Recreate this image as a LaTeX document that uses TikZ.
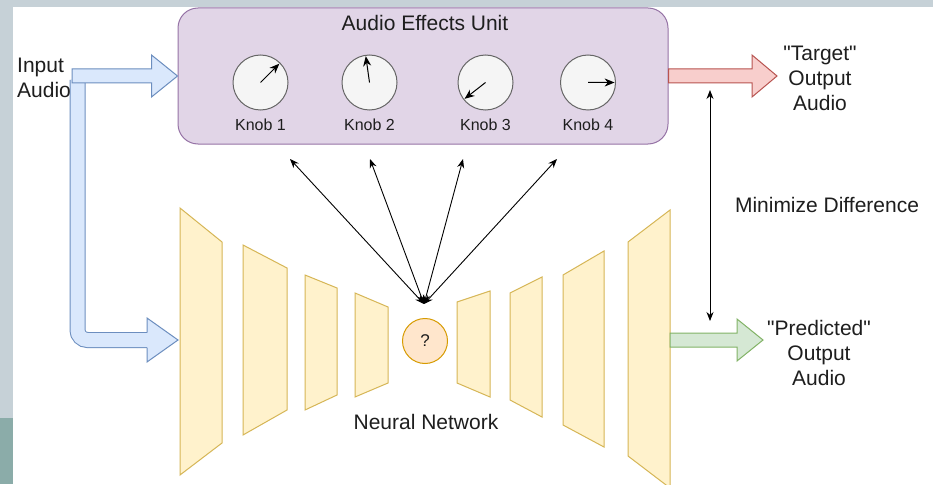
\documentclass[tikz,border=0pt]{standalone}
\usepackage{fontspec}
\setmainfont{Liberation Sans}[Ligatures=TeXOff]
\usetikzlibrary{arrows.meta,calc}
\definecolor{bgGray}{HTML}{C6D1D7}
\definecolor{bgTeal}{HTML}{8BACA9}
\definecolor{fxF}{HTML}{E1D5E7}
\definecolor{fxS}{HTML}{9673A6}
\definecolor{knF}{HTML}{F5F5F5}
\definecolor{knS}{HTML}{666666}
\definecolor{blF}{HTML}{DAE8FC}
\definecolor{blS}{HTML}{6C8EBF}
\definecolor{rdF}{HTML}{F8CECC}
\definecolor{rdS}{HTML}{B85450}
\definecolor{grF}{HTML}{D5E8D4}
\definecolor{grS}{HTML}{82B366}
\definecolor{ylF}{HTML}{FFF2CC}
\definecolor{ylS}{HTML}{D6B656}
\definecolor{orF}{HTML}{FFE6CC}
\definecolor{orS}{HTML}{D79B00}
\definecolor{txt}{HTML}{1E1E1E}
% #1 start, #2 tip, #3 head length, #4 fill, #5 stroke
\newcommand\hflex[5]{%
  \filldraw[fill=#4,draw=#5,line width=1pt,line join=miter]
    ($(#1)+(0,-7)$) -- ($(#2)+(-#3,-7)$) -- ($(#2)+(-#3,-21)$) -- (#2)
    -- ($(#2)+(-#3,21)$) -- ($(#2)+(-#3,7)$) -- ($(#1)+(0,7)$) -- cycle;}
\begin{document}
\begin{tikzpicture}[x=1pt,y=-1pt,
  bigtxt/.style={text=txt,font=\fontsize{21}{25}\selectfont,inner sep=0pt,align=center},
  smalltxt/.style={text=txt,font=\fontsize{16}{19}\selectfont,inner sep=0pt},
  fxbox/.style={draw=fxS,fill=fxF,line width=1pt,rounded corners=20pt,minimum width=490pt,minimum height=136pt,inner sep=0pt},
  knob/.style={circle,draw=knS,fill=knF,line width=1pt,minimum size=55pt,inner sep=0pt},
  pointer/.style={line width=1pt,-{Stealth[length=10pt,width=8pt]}},
  link/.style={line width=0.9pt,{Stealth[length=9pt,width=7pt]}-{Stealth[length=9pt,width=7pt]}},
  layer/.style={fill=ylF,draw=ylS,line width=1pt,line join=miter},
  qnode/.style={circle,draw=orS,fill=orF,line width=1pt,minimum size=45pt,inner sep=0pt,text=txt,font=\fontsize{17}{20}\selectfont}
]
\useasboundingbox (0,0) rectangle (933,484);
% background frame
\fill[white] (0,0) rectangle (933,484);
\fill[bgGray] (0,0) rectangle (933,7);
\fill[bgGray] (0,0) rectangle (13,418);
\fill[bgTeal] (0,418) rectangle (13,484);

% named coordinates
\coordinate (inStart) at (72,76);
\coordinate (bendStart) at (77.5,80);
\coordinate (nnIn) at (178,340);
\coordinate (tgtTip) at (777,76);
\coordinate (nnOut) at (670,340);
\coordinate (predTip) at (763,340);
\coordinate (hub) at (424,304);
\coordinate (up1) at (290,159);
\coordinate (up2) at (370,159);
\coordinate (up3) at (463,159);
\coordinate (up4) at (557,159);
\coordinate (diffTop) at (710,90);
\coordinate (diffBot) at (710,321);

% effects unit box
\node[fxbox] (fx) at (423,76) {};
\node[bigtxt] (title) at (425,23) {Audio Effects Unit};

% blue bent arrow (input -> network)
\draw[line width=1pt,draw=blS,double=blF,double distance=14pt,rounded corners=10pt]
  (bendStart) |- ($(nnIn)+(-30,0)$);
\filldraw[fill=blF,draw=blS,line width=1pt,line join=miter]
  ($(nnIn)+(-31,-7.5)$) -- ($(nnIn)+(-31,-22)$) -- (nnIn) -- ($(nnIn)+(-31,22)$) -- ($(nnIn)+(-31,7.5)$);
% blue straight arrow (input -> effects unit)
\hflex{inStart}{fx.west}{26}{blF}{blS}
% red arrow (effects unit -> target)
\hflex{fx.east}{tgtTip}{25}{rdF}{rdS}

% knobs
\foreach \i/\x/\ang in {1/260.5/45, 2/369.5/98, 3/485.5/218, 4/588/0} {
  \node[knob] (k\i) at (\x,82.5) {};
  \node[smalltxt] (kl\i) at (\x,125) {Knob \i};
  \draw[pointer] (k\i.center) -- ($(k\i.center)!0.95!(k\i.\ang)$);
}

% network layers
\filldraw[layer] (180,208) -- (222,242) -- (222,443) -- (180,475) -- cycle;
\filldraw[layer] (243,245) -- (287,268) -- (287,410) -- (243,435) -- cycle;
\filldraw[layer] (305,275) -- (337,288) -- (337,395) -- (305,410) -- cycle;
\filldraw[layer] (355,293) -- (388,307) -- (388,383) -- (355,397) -- cycle;
\filldraw[layer] (457,302) -- (490,291) -- (490,397) -- (457,383) -- cycle;
\filldraw[layer] (510,293) -- (542,277) -- (542,417) -- (510,400) -- cycle;
\filldraw[layer] (563,275) -- (604,251) -- (604,447) -- (563,425) -- cycle;
\filldraw[layer] (628,242) -- (670,210) -- (670,488) -- (628,456) -- cycle;
\node[qnode] (q) at (425,341) {?};
\node[bigtxt] (nn) at (426,422) {Neural Network};

% green arrow (network -> predicted)
\hflex{nnOut}{predTip}{26}{grF}{grS}

% parameter links
\foreach \k in {1,2,3,4} {
  \draw[link] (hub) -- (up\k);
}
% minimize difference
\draw[link] (diffTop) -- (diffBot);

% labels
\node[bigtxt,align=left,anchor=west] (inlbl) at (17,77.5) {Input\\Audio};
\node[bigtxt] (tgt) at (820,78) {"Target"\\Output\\Audio};
\node[bigtxt] (pred) at (819,353) {"Predicted"\\Output\\Audio};
\node[bigtxt] (mindiff) at (827,205) {Minimize Difference};
\end{tikzpicture}
\end{document}
